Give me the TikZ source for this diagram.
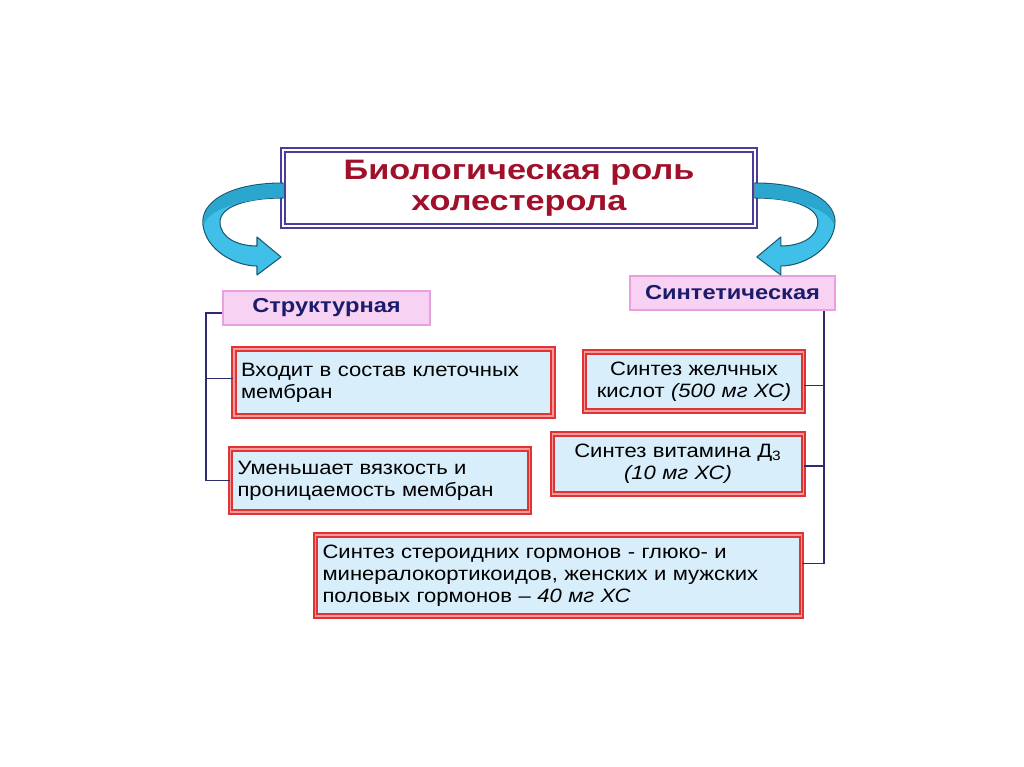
\documentclass[tikz,border=0pt]{standalone}
\usepackage{fontspec}
\setmainfont{Liberation Sans}
\newfontfamily\bodyfont[FakeStretch=1.14,Ligatures=TeX]{Liberation Sans}
\newfontfamily\rolefont[FakeStretch=1.17]{Liberation Sans}
\newfontfamily\headfont[FakeStretch=1.22]{Liberation Sans}
\usetikzlibrary{calc,positioning}
\definecolor{titleframe}{HTML}{4A3C9C}
\definecolor{titletext}{HTML}{A0102A}
\definecolor{labelfill}{HTML}{F8D2F2}
\definecolor{labelframe}{HTML}{E8A0DE}
\definecolor{labeltext}{HTML}{1C1C6C}
\definecolor{boxfill}{HTML}{D8EEFA}
\definecolor{boxframe}{HTML}{E03434}
\definecolor{boxinner}{HTML}{F39A9A}
\definecolor{linkcol}{HTML}{2C2C6C}
\definecolor{arrowfill}{HTML}{40C0E8}
\definecolor{arrowback}{HTML}{2AA6CF}
\definecolor{arrowline}{HTML}{1A5A70}

\begin{document}
\begin{tikzpicture}[x=0.02cm,y=-0.02cm,
  titlebox/.style={draw=titleframe, line width=0.9pt, double=white, double distance=1.6pt,
    fill=white, align=center, text=titletext, inner sep=0pt,
    font=\headfont\fontsize{16}{17.6}\selectfont\bfseries},
  rolebox/.style={draw=labelframe, line width=1.2pt, fill=labelfill, text=labeltext,
    inner sep=0pt, font=\rolefont\fontsize{11.5}{13}\selectfont\bfseries},
  factbox/.style={draw=boxframe, line width=1.1pt, double=boxinner, double distance=1pt,
    fill=boxfill, inner xsep=4pt, inner ysep=0pt,
    font=\bodyfont\fontsize{11}{12.5}\selectfont},
  link/.style={draw=linkcol, line width=0.8pt},
  turn/.style={fill=arrowfill, draw=arrowline, line width=0.6pt, line join=round}]
\useasboundingbox (0,0) rectangle (1024,767);

% title and the two roles
\node[titlebox, minimum width=9.44cm, minimum height=1.52cm] (title) at (519,188)
  {Биологическая роль\\холестерола};
\node[rolebox, minimum width=4.14cm, minimum height=0.68cm] (struct) at (326.5,308) {Структурная};
\node[rolebox, minimum width=4.1cm, minimum height=0.68cm] (synth) at (732.5,293) {Синтетическая};

% facts
\node[factbox, minimum height=1.34cm, text width=6.1cm, align=left] (memb) at (393.5,382.5)
  {Входит в состав клеточных\\мембран};
\node[factbox, minimum height=1.26cm, text width=5.7cm, align=left] (visc) at (380,480.5)
  {Уменьшает вязкость и\\проницаемость мембран};
\node[factbox, minimum height=1.18cm, text width=4.1cm, align=center] (bile) at (694,381.5)
  {Синтез желчных\\кислот \textit{(500 мг ХС)}};
\node[factbox, minimum height=1.2cm, text width=4.74cm, align=center] (vitd) at (678,464)
  {Синтез витамина Д\textsubscript{3}\\\textit{(10 мг ХС)}};
\node[factbox, minimum height=1.62cm, text width=9.44cm, align=left] (horm) at (558.5,575.5)
  {Синтез стероидних гормонов - глюко- и\\минералокортикоидов, женских и мужских\\половых гормонов – \textit{40 мг ХС}};

% connectors
\coordinate (lspine) at (206,0);
\coordinate (rspine) at (824,0);
\draw[link] ($(struct.west)+(0,5)$) -- ($(struct.west -| lspine)+(0,5)$) |- (visc.west);
\draw[link] ($(memb.west)+(0,-4)$) -- ($(memb.west -| lspine)+(0,-4)$);
\draw[link] (synth.south -| rspine) |- ($(horm.east)+(0,-12)$);
\draw[link] ($(bile.east)+(0,4)$) -- ($(bile.east -| rspine)+(0,4)$);
\draw[link] ($(vitd.east)+(0,2)$) -- ($(vitd.east -| rspine)+(0,2)$);

% curved arrows
\draw[turn] (283,183) .. controls (228,183) and (200,203) .. (203,225)
  .. controls (206,250) and (235,266) .. (257,266) -- (257,275) -- (281,257)
  -- (257,237) -- (257,246) .. controls (238,246) and (220,238) .. (220,222)
  .. controls (220,207) and (245,198) .. (283,198) -- cycle;
\fill[arrowback] (283,184) .. controls (228,184) and (202,203) .. (204,224)
  .. controls (208,214) and (225,201) .. (283,197) -- cycle;
\begin{scope}[xshift=20.76cm, xscale=-1]
\draw[turn] (283,183) .. controls (228,183) and (200,203) .. (203,225)
  .. controls (206,250) and (235,266) .. (257,266) -- (257,275) -- (281,257)
  -- (257,237) -- (257,246) .. controls (238,246) and (220,238) .. (220,222)
  .. controls (220,207) and (245,198) .. (283,198) -- cycle;
\fill[arrowback] (283,184) .. controls (228,184) and (202,203) .. (204,224)
  .. controls (208,214) and (225,201) .. (283,197) -- cycle;
\end{scope}
\end{tikzpicture}
\end{document}
